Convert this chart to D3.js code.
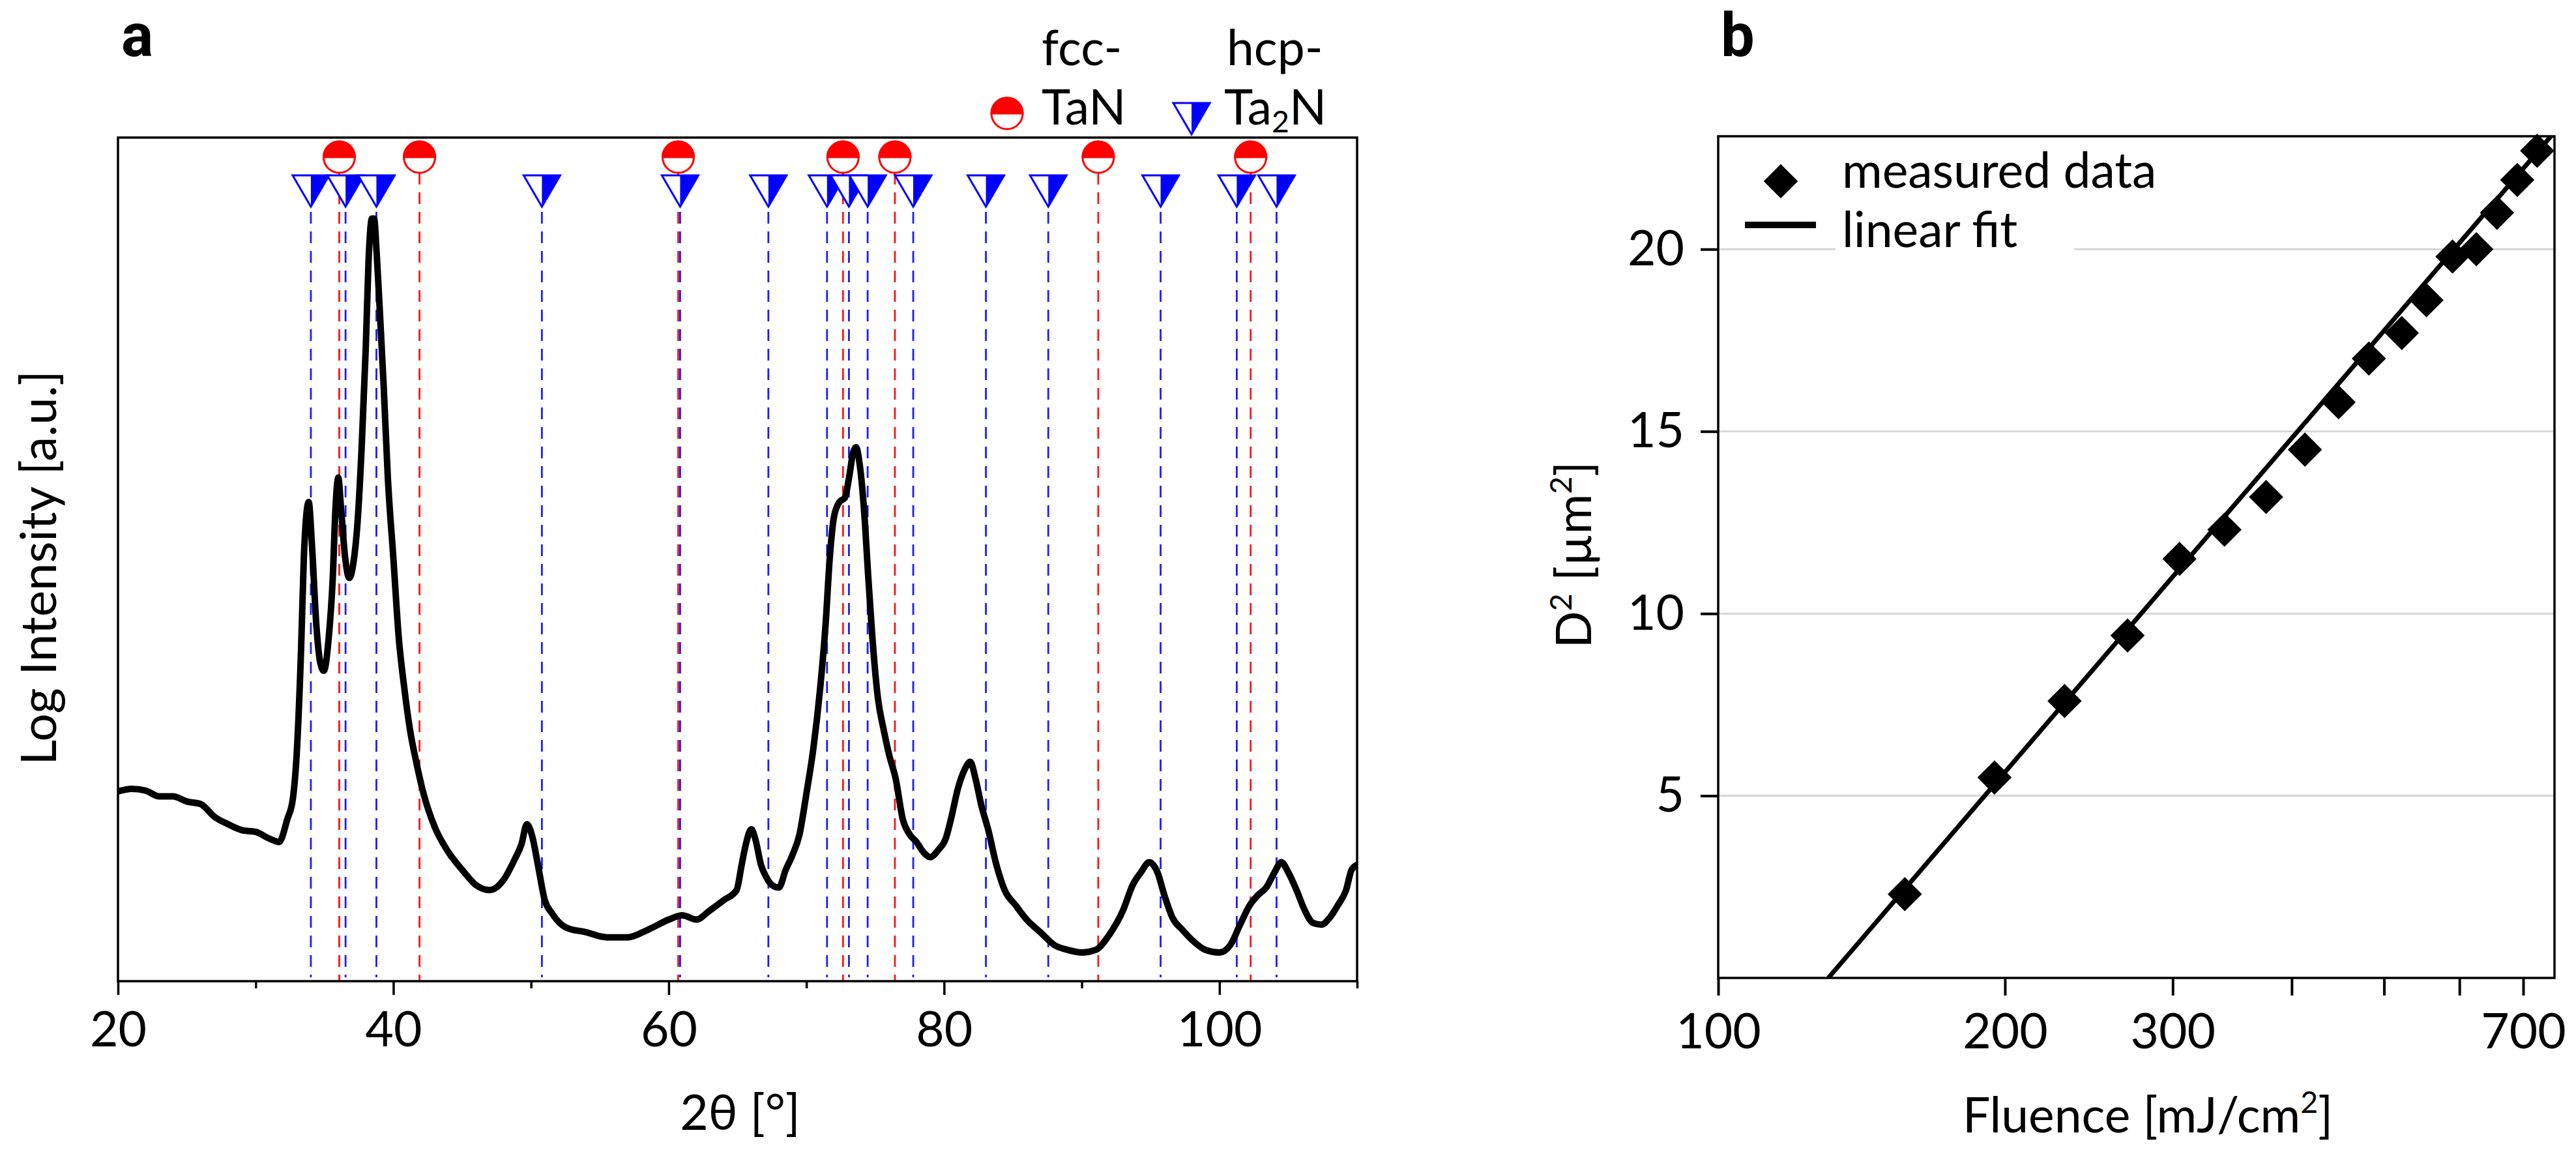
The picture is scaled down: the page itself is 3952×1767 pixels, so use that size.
<!DOCTYPE html>
<html>
<head>
<meta charset="utf-8">
<script src="https://cdn.jsdelivr.net/npm/d3@7"></script>
<style>
  body { margin: 0; background: #fff; }
</style>
</head>
<body>
<div id="target"></div>
<script>
// ---- data: panel a (XRD pattern, log intensity in arbitrary units 0..100)
let xrdTwoTheta = [20, 21, 22, 23, 24, 25, 26, 27, 28, 29, 30, 31, 31.7, 32.3, 32.7, 33.0, 33.3, 33.5, 33.7, 33.85,
  34.1, 34.4, 34.7, 34.95, 35.3, 35.6, 35.8, 36.0, 36.2, 36.5, 36.8, 37.1, 37.4, 37.7, 38.0, 38.2, 38.45, 38.6,
  38.8, 39.0, 39.3, 39.6, 40.0, 40.4, 40.8, 41.2, 41.7, 42.2, 43, 44, 45, 46, 47, 48, 48.8, 49.3, 49.7, 50.1,
  50.5, 51.0, 51.5, 52.5, 54, 55.5, 57, 58.5, 60, 61, 62, 63, 64, 64.93, 65.3, 65.6, 66.0, 66.3, 66.7, 67.1,
  67.5, 68.0, 68.5, 69.0, 69.5, 70.0, 70.5, 71.0, 71.4, 71.7, 72.0, 72.4, 72.8, 73.1, 73.4, 73.6, 73.9, 74.2,
  74.5, 74.8, 75.2, 75.6, 76.0, 76.5, 77.0, 77.5, 78.0, 78.5, 79.0, 79.6, 80.1, 80.5, 81.0, 81.5, 81.9, 82.3,
  82.7, 83.2, 83.8, 84.4, 85.2, 86, 87, 88, 89, 90, 91, 92, 93, 93.7, 94.3, 94.9, 95.5, 96.0, 96.6, 97.3, 98,
  99, 100, 100.8, 101.5, 102.2, 102.8, 103.4, 104.0, 104.5, 105.0, 105.6, 106.2, 106.8, 107.4, 108.0, 108.6,
  109.2, 109.6, 110]
let xrdIntensity = [22.5, 22.8, 22.6, 21.9, 21.9, 21.3, 21.0, 19.5, 18.6, 17.9, 17.7, 16.9, 16.5, 19.2, 21.6, 27.5, 39.4, 50.2, 55.6, 56.8,
  51.4, 42.4, 37.7, 36.8, 40.6, 47.8, 56.1, 59.7, 56.1, 50.2, 47.8, 49.6, 54.4, 63.3, 75.2, 85.4, 90.4, 90.4,
  86.0, 80.0, 70.5, 59.7, 50.2, 40.6, 34.7, 29.9, 25.7, 22.2, 18.3, 15.3, 13.2, 11.4, 10.8, 12.0, 14.4, 16.2, 18.6, 17.1,
  13.8, 9.6, 8.1, 6.4, 5.8, 5.2, 5.2, 6.1, 7.3, 7.8, 7.3, 8.4, 9.6, 10.8, 13.8, 16.2, 18.0, 16.8, 13.8, 12.3,
  11.4, 11.1, 13.2, 15.0, 17.4, 22.2, 27.5, 34.7, 42.4, 50.2, 55.0, 56.8, 57.3, 59.7, 62.7, 63.3, 60.9, 55.6,
  47.8, 40.6, 33.5, 29.9, 26.9, 23.9, 19.2, 17.4, 16.5, 15.3, 14.7, 15.6, 16.8, 19.2, 22.8, 25.1, 26.0, 23.9,
  20.9, 18.0, 13.8, 10.8, 9.0, 7.3, 5.8, 4.3, 3.7, 3.4, 3.7, 5.5, 8.4, 11.4, 12.9, 14.1, 12.9, 10.2, 7.5, 6.1, 4.9,
  3.7, 3.4, 4.3, 6.7, 9.0, 10.2, 11.1, 12.9, 14.1, 12.9, 10.8, 8.4, 6.9, 6.7, 7.5, 9.0,
  10.8, 13.2, 13.8]

// reference reflections
let fccTaN = [36.07, 41.9, 60.69, 72.66, 76.43, 91.2, 102.27]
let hcpTa2N = [34.01, 36.53, 38.77, 50.79, 60.83, 67.24, 71.5, 73.09, 74.45, 77.76, 83.04, 87.57, 95.73, 101.26, 104.15]

let xTicksA = [20, 40, 60, 80, 100]
let xMinorTicksA = [30, 50, 70, 90, 110]

// ---- data: panel b (D^2 vs fluence)
let fluence = [157, 195, 231, 269, 305, 340, 376, 413, 448, 482, 522, 554, 590, 625, 657, 690, 724]
let dSquared = [2.3, 5.5, 7.6, 9.4, 11.5, 12.3, 13.2, 14.5, 15.8, 17.0, 17.7, 18.6, 19.8, 20.0, 21.0, 21.9, 22.7]
let fitFluence = [130.5, 760]
let fitD2 = [0, 23.3]

let xTicksB = [100, 200, 300, 400, 500, 600, 700]
let xTickLabelsB = [100, 200, 300, 700]
let yTicksB = [5, 10, 15, 20]

let width = 3952,
  height = 1767,
  fontSize = 75,
  font = "Lato, 'DejaVu Sans', sans-serif"

let svg = d3.select("#target").append("svg")
  .attr("width", width)
  .attr("height", height)
  .style("font-family", font)

// ================= panel a =================
let pa = { left: 181, right: 2082, top: 211, bottom: 1505 }
let xA = d3.scaleLinear().domain([20, 110]).range([pa.left, pa.right])
let yA = d3.scaleLinear().domain([0, 100]).range([pa.bottom, pa.top])

let markY = { circle: 241, triTop: 269 }
let r = 24, triW = 56, triH = 48

// dashed guide lines
svg.append("g").selectAll("line")
  .data(hcpTa2N)
  .enter().append("line")
  .attr("x1", d => xA(d)).attr("x2", d => xA(d))
  .attr("y1", markY.triTop + triH + 8).attr("y2", pa.bottom - 6)
  .attr("stroke", "#1c1cff")
  .attr("stroke-width", 2.8)
  .attr("stroke-dasharray", "18,12")

svg.append("g").selectAll("line")
  .data(fccTaN)
  .enter().append("line")
  .attr("x1", d => xA(d)).attr("x2", d => xA(d))
  .attr("y1", markY.circle + r).attr("y2", pa.bottom)
  .attr("stroke", "#ff1414")
  .attr("stroke-width", 2.8)
  .attr("stroke-dasharray", "18,12")

// XRD curve
let xrd = xrdTwoTheta.map((t, i) => ({ t: t, v: xrdIntensity[i] }))
svg.append("path")
  .datum(xrd)
  .attr("fill", "none")
  .attr("stroke", "#000")
  .attr("stroke-width", 10)
  .attr("stroke-linejoin", "round")
  .attr("d", d3.line().x(d => xA(d.t)).y(d => yA(d.v)).curve(d3.curveMonotoneX))

// markers
function drawCircle(g) {
  g.append("circle").attr("r", r).attr("fill", "#fff").attr("stroke", "#ff0000").attr("stroke-width", 3)
  g.append("path").attr("d", `M${-r},0 A${r},${r} 0 0 1 ${r},0 Z`).attr("fill", "#ff0000")
    .attr("stroke", "#ff0000").attr("stroke-width", 3)
}
function drawTriangle(g) {
  g.append("path").attr("d", `M${-triW / 2},0 L${triW / 2},0 L0,${triH} Z`)
    .attr("fill", "#fff").attr("stroke", "#0000ff").attr("stroke-width", 3).attr("stroke-linejoin", "miter")
  g.append("path").attr("d", `M0,0 L${triW / 2},0 L0,${triH} Z`).attr("fill", "#0000ff")
}

svg.append("g").selectAll("g")
  .data(hcpTa2N)
  .enter().append("g")
  .attr("transform", d => "translate(" + xA(d) + "," + markY.triTop + ")")
  .each(function () { drawTriangle(d3.select(this)) })

svg.append("g").selectAll("g")
  .data(fccTaN)
  .enter().append("g")
  .attr("transform", d => "translate(" + xA(d) + "," + markY.circle + ")")
  .each(function () { drawCircle(d3.select(this)) })

// frame
svg.append("rect")
  .attr("x", pa.left).attr("y", pa.top)
  .attr("width", pa.right - pa.left).attr("height", pa.bottom - pa.top)
  .attr("fill", "none").attr("stroke", "#000").attr("stroke-width", 3.5)

// x axis
let gxa = svg.append("g")
  .attr("transform", "translate(0," + pa.bottom + ")")
  .call(d3.axisBottom(xA).tickValues(xTicksA).tickSize(21).tickPadding(26).tickFormat(d3.format("d")))
let gxaMinor = svg.append("g")
  .attr("transform", "translate(0," + pa.bottom + ")")
  .call(d3.axisBottom(xA).tickValues(xMinorTicksA).tickSize(11).tickFormat(""))
;[gxa, gxaMinor].forEach(g => {
  g.select(".domain").remove()
  g.attr("font-size", fontSize).attr("font-family", font)
  g.selectAll("line").attr("stroke", "#000").attr("stroke-width", 3.5)
  g.selectAll("text").attr("fill", "#000")
})

svg.append("text")
  .attr("x", (pa.left + pa.right) / 2 + 4).attr("y", 1733)
  .attr("text-anchor", "middle").attr("font-size", fontSize)
  .text("2θ [°]")

svg.append("text")
  .attr("transform", "translate(86,871) rotate(-90)")
  .attr("text-anchor", "middle").attr("font-size", 76)
  .text("Log Intensity [a.u.]")

svg.append("text")
  .attr("x", 186).attr("y", 86)
  .attr("font-family", "Roboto, sans-serif")
  .attr("font-size", 92).attr("font-weight", "bold")
  .text("a")

// legend a (two-line labels, spaced so the lines do not collide)
let legCircle = svg.append("g").attr("transform", "translate(1545,174)")
drawCircle(legCircle)
let fccLabel = svg.append("text").attr("font-size", fontSize)
fccLabel.append("tspan").attr("x", 1598).attr("y", 100).text("fcc-")
fccLabel.append("tspan").attr("x", 1598).attr("y", 191).text("TaN")

let legTri = svg.append("g").attr("transform", "translate(1828,158)")
drawTriangle(legTri)
let hcpLabel = svg.append("text").attr("font-size", fontSize)
hcpLabel.append("tspan").attr("x", 1882).attr("y", 100).text("hcp-")
hcpLabel.append("tspan").attr("x", 1878).attr("y", 191).text("Ta")
hcpLabel.append("tspan").attr("font-size", fontSize * 0.62).attr("dy", 12).text("2")
hcpLabel.append("tspan").attr("dy", -12).text("N")

// ================= panel b =================
let pb = { left: 2636, right: 3919, top: 209, bottom: 1500 }
let xB = d3.scaleLog().domain([100, 755]).range([pb.left, pb.right])
let yB = d3.scaleLinear().domain([0, 23.1]).range([pb.bottom, pb.top])

svg.append("defs").append("clipPath").attr("id", "clipB")
  .append("rect").attr("x", pb.left).attr("y", pb.top)
  .attr("width", pb.right - pb.left).attr("height", pb.bottom - pb.top)

// grid
svg.append("g").selectAll("line")
  .data(yTicksB)
  .enter().append("line")
  .attr("x1", pb.left).attr("x2", pb.right)
  .attr("y1", d => yB(d)).attr("y2", d => yB(d))
  .attr("stroke", "#d6d6d6").attr("stroke-width", 3)

// legend background (hides grid under text)
svg.append("rect").attr("x", 2816).attr("y", 222).attr("width", 366).attr("height", 176).attr("fill", "#fff")

// fit line
svg.append("path")
  .datum(fitFluence.map((f, i) => ({ f: f, d: fitD2[i] })))
  .attr("clip-path", "url(#clipB)")
  .attr("fill", "none").attr("stroke", "#000").attr("stroke-width", 7)
  .attr("d", d3.line().x(d => xB(d.f)).y(d => yB(d.d)))

// measured points
let diamond = d3.symbol().type(d3.symbolSquare).size(1380)
svg.append("g").selectAll("path")
  .data(fluence.map((f, i) => ({ f: f, d: dSquared[i] })))
  .enter().append("path")
  .attr("d", diamond)
  .attr("transform", d => "translate(" + xB(d.f) + "," + yB(d.d) + ") rotate(45)")
  .attr("fill", "#000")

// frame
svg.append("rect")
  .attr("x", pb.left).attr("y", pb.top)
  .attr("width", pb.right - pb.left).attr("height", pb.bottom - pb.top)
  .attr("fill", "none").attr("stroke", "#000").attr("stroke-width", 3.5)

let gxb = svg.append("g")
  .attr("transform", "translate(0," + pb.bottom + ")")
  .call(d3.axisBottom(xB).tickValues(xTicksB).tickSize(27).tickPadding(28)
    .tickFormat(d => xTickLabelsB.includes(d) ? d : ""))
let gyb = svg.append("g")
  .attr("transform", "translate(" + pb.left + ",0)")
  .call(d3.axisLeft(yB).tickValues(yTicksB).tickSize(27).tickPadding(25))
;[gxb, gyb].forEach(g => {
  g.select(".domain").remove()
  g.attr("font-size", fontSize).attr("font-family", font)
  g.selectAll("line").attr("stroke", "#000").attr("stroke-width", 4)
  g.selectAll("text").attr("fill", "#000")
})

let xlabB = svg.append("text")
  .attr("x", 3295).attr("y", 1737)
  .attr("text-anchor", "middle").attr("font-size", fontSize)
xlabB.append("tspan").text("Fluence [mJ/cm")
xlabB.append("tspan").attr("font-size", fontSize * 0.62).attr("dy", -30).text("2")
xlabB.append("tspan").attr("dy", 30).text("]")

let ylabB = svg.append("text")
  .attr("transform", "translate(2441,851) rotate(-90)")
  .attr("text-anchor", "middle").attr("font-size", fontSize)
ylabB.append("tspan").text("D")
ylabB.append("tspan").attr("font-size", fontSize * 0.62).attr("dy", -30).text("2")
ylabB.append("tspan").attr("dy", 30).text(" [µm")
ylabB.append("tspan").attr("font-size", fontSize * 0.62).attr("dy", -30).text("2")
ylabB.append("tspan").attr("dy", 30).text("]")

svg.append("text")
  .attr("x", 2640).attr("y", 86)
  .attr("font-family", "Roboto, sans-serif")
  .attr("font-size", 92).attr("font-weight", "bold")
  .text("b")

// legend b
svg.append("path")
  .attr("d", diamond)
  .attr("transform", "translate(2732,278) rotate(45)")
  .attr("fill", "#000")
svg.append("line")
  .attr("x1", 2677).attr("x2", 2786).attr("y1", 345).attr("y2", 345)
  .attr("stroke", "#000").attr("stroke-width", 10)
svg.append("text").attr("x", 2826).attr("y", 288).attr("font-size", fontSize).text("measured data")
svg.append("text").attr("x", 2826).attr("y", 379).attr("font-size", fontSize).text("linear fit")
</script>
</body>
</html>
